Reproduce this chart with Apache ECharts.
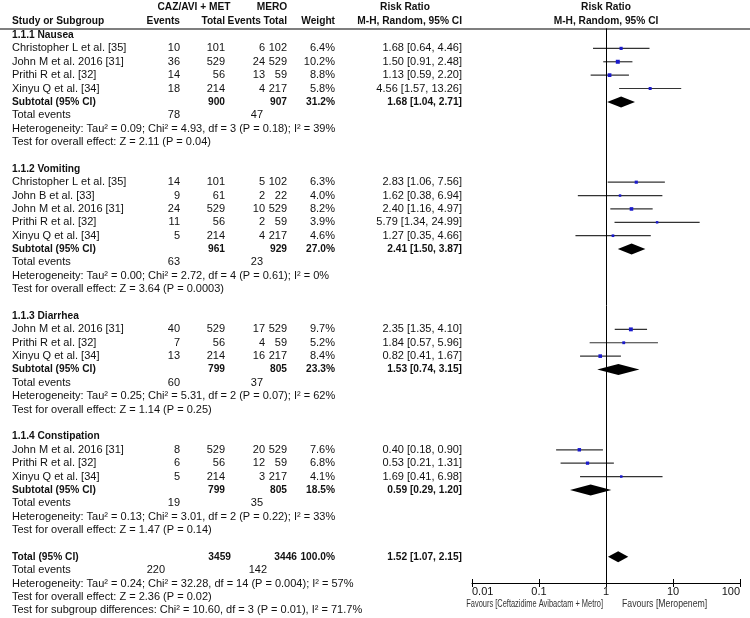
<!DOCTYPE html>
<html>
<head>
<meta charset="utf-8" />
<title>Forest plot - CAZ/AVI + MET vs MERO</title>
<script src="https://cdn.jsdelivr.net/npm/echarts@6/dist/echarts.min.js"></script>
<style>body{margin:0;background:#fff}</style>
</head>
<body>
<div id="grafico" style="width:750px;height:618px"></div>
<script>
// subgroups
const grupos = ["1.1.1 Nausea", "1.1.2 Vomiting", "1.1.3 Diarrhea", "1.1.4 Constipation"];

// studies (group index, name, events/totals, weight, RR + CI)
const estudoGrupo = [0, 0, 0, 0, 1, 1, 1, 1, 1, 2, 2, 2, 3, 3, 3];
const estudos = [
    "Christopher L et al. [35]", "John M et al. 2016 [31]", "Prithi R et al. [32]", "Xinyu Q et al. [34]",
    "Christopher L et al. [35]", "John B et al. [33]", "John M et al. 2016 [31]", "Prithi R et al. [32]", "Xinyu Q et al. [34]",
    "John M et al. 2016 [31]", "Prithi R et al. [32]", "Xinyu Q et al. [34]",
    "John M et al. 2016 [31]", "Prithi R et al. [32]", "Xinyu Q et al. [34]"
];
const eventosExp = [10, 36, 14, 18, 14, 9, 24, 11, 5, 40, 7, 13, 8, 6, 5];
const totalExp = [101, 529, 56, 214, 101, 61, 529, 56, 214, 529, 56, 214, 529, 56, 214];
const eventosCtrl = [6, 24, 13, 4, 5, 2, 10, 2, 4, 17, 4, 16, 20, 12, 3];
const totalCtrl = [102, 529, 59, 217, 102, 22, 529, 59, 217, 529, 59, 217, 529, 59, 217];
const pesos = [6.4, 10.2, 8.8, 5.8, 6.3, 4.0, 8.2, 3.9, 4.6, 9.7, 5.2, 8.4, 7.6, 6.8, 4.1];
const rr = [1.68, 1.50, 1.13, 4.56, 2.83, 1.62, 2.40, 5.79, 1.27, 2.35, 1.84, 0.82, 0.40, 0.53, 1.69];
const rrInf = [0.64, 0.91, 0.59, 1.57, 1.06, 0.38, 1.16, 1.34, 0.35, 1.35, 0.57, 0.41, 0.18, 0.21, 0.41];
const rrSup = [4.46, 2.48, 2.20, 13.26, 7.56, 6.94, 4.97, 24.99, 4.66, 4.10, 5.96, 1.67, 0.90, 1.31, 6.98];

// subtotals
const subTotalExp = [900, 961, 799, 799];
const subTotalCtrl = [907, 929, 805, 805];
const subPeso = [31.2, 27.0, 23.3, 18.5];
const subEventosExp = [78, 63, 60, 19];
const subEventosCtrl = [47, 23, 37, 35];
const subRR = [1.68, 2.41, 1.53, 0.59];
const subInf = [1.04, 1.50, 0.74, 0.29];
const subSup = [2.71, 3.87, 3.15, 1.20];
const subHet = [
    "Heterogeneity: Tau² = 0.09; Chi² = 4.93, df = 3 (P = 0.18); I² = 39%",
    "Heterogeneity: Tau² = 0.00; Chi² = 2.72, df = 4 (P = 0.61); I² = 0%",
    "Heterogeneity: Tau² = 0.25; Chi² = 5.31, df = 2 (P = 0.07); I² = 62%",
    "Heterogeneity: Tau² = 0.13; Chi² = 3.01, df = 2 (P = 0.22); I² = 33%"
];
const subTeste = [
    "Test for overall effect: Z = 2.11 (P = 0.04)",
    "Test for overall effect: Z = 3.64 (P = 0.0003)",
    "Test for overall effect: Z = 1.14 (P = 0.25)",
    "Test for overall effect: Z = 1.47 (P = 0.14)"
];

// overall
const totalGeral = [3459, 3446];
const eventosGeral = [220, 142];
const rrGeral = [1.52, 1.07, 2.15];
const hetGeral = "Heterogeneity: Tau² = 0.24; Chi² = 32.28, df = 14 (P = 0.004); I² = 57%";
const testeGeral = "Test for overall effect: Z = 2.36 (P = 0.02)";
const testeSubgrupos = "Test for subgroup differences: Chi² = 10.60, df = 3 (P = 0.01), I² = 71.7%";

const ticksEixo = ["0.01", "0.1", "1", "10", "100"];

// layout
const ROW0 = 35, ROWH = 13.38, H = 618;
const COL = {nome: 12, evExp: 180, totExp: 225, evCtrl: 265, totCtrl: 287, peso: 335, rr: 462, rrHead: 405};
const FONT = '"Liberation Sans", Arial, sans-serif';

const fmtRR = (a, b, c) => `${a.toFixed(2)} [${b.toFixed(2)}, ${c.toFixed(2)}]`;

// build table cells + plot items
const celulas = [];
const pontos = [];
const diamantes = [];
function cel(x, row, text, align, bold) { celulas.push({x, row, text: String(text), align, bold}); }

cel(194, -2.05, "CAZ/AVI + MET", "center", true);
cel(272, -2.05, "MERO", "center", true);
cel(COL.rrHead, -2.05, "Risk Ratio", "center", true);
cel(606, -2.05, "Risk Ratio", "center", true);
cel(COL.nome, -1.02, "Study or Subgroup", "left", true);
cel(COL.evExp, -1.02, "Events", "right", true);
cel(COL.totExp, -1.02, "Total", "right", true);
cel(261, -1.02, "Events", "right", true);
cel(COL.totCtrl, -1.02, "Total", "right", true);
cel(COL.peso, -1.02, "Weight", "right", true);
cel(COL.rr, -1.02, "M-H, Random, 95% CI", "right", true);
cel(606, -1.02, "M-H, Random, 95% CI", "center", true);

let row = 0;
grupos.forEach((g, gi) => {
    cel(COL.nome, row, g, "left", true);
    row++;
    estudoGrupo.forEach((eg, i) => {
        if (eg !== gi) return;
        cel(COL.nome, row, estudos[i], "left");
        cel(COL.evExp, row, eventosExp[i], "right");
        cel(COL.totExp, row, totalExp[i], "right");
        cel(COL.evCtrl, row, eventosCtrl[i], "right");
        cel(COL.totCtrl, row, totalCtrl[i], "right");
        cel(COL.peso, row, pesos[i].toFixed(1) + "%", "right");
        cel(COL.rr, row, fmtRR(rr[i], rrInf[i], rrSup[i]), "right");
        pontos.push([rr[i], row, rrInf[i], rrSup[i], pesos[i]]);
        row++;
    });
    cel(COL.nome, row, "Subtotal (95% CI)", "left", true);
    cel(COL.totExp, row, subTotalExp[gi], "right", true);
    cel(COL.totCtrl, row, subTotalCtrl[gi], "right", true);
    cel(COL.peso, row, subPeso[gi].toFixed(1) + "%", "right", true);
    cel(COL.rr, row, fmtRR(subRR[gi], subInf[gi], subSup[gi]), "right", true);
    diamantes.push([subRR[gi], row, subInf[gi], subSup[gi]]);
    row++;
    cel(COL.nome, row, "Total events", "left");
    cel(COL.evExp, row, subEventosExp[gi], "right");
    cel(263, row, subEventosCtrl[gi], "right");
    row++;
    cel(COL.nome, row, subHet[gi], "left");
    row++;
    cel(COL.nome, row, subTeste[gi], "left");
    row += 2;
});
cel(COL.nome, row, "Total (95% CI)", "left", true);
cel(COL.totExp + 6, row, totalGeral[0], "right", true);
cel(COL.totCtrl + 10, row, totalGeral[1], "right", true);
cel(COL.peso, row, "100.0%", "right", true);
cel(COL.rr, row, fmtRR(rrGeral[0], rrGeral[1], rrGeral[2]), "right", true);
diamantes.push([rrGeral[0], row, rrGeral[1], rrGeral[2]]);
row++;
cel(COL.nome, row, "Total events", "left");
cel(165, row, eventosGeral[0], "right");
cel(267, row, eventosGeral[1], "right");
row++;
cel(COL.nome, row, hetGeral, "left");
row++;
cel(COL.nome, row, testeGeral, "left");
row++;
cel(COL.nome, row, testeSubgrupos, "left");

const yOf = r => ROW0 + r * ROWH;
const tMin = -2.5, tMax = 43.4;
const fMin = -0.5, fMax = (583 - ROW0) / ROWH;

const chart = echarts.init(document.getElementById("grafico"));
chart.setOption({
    animation: false,
    backgroundColor: "#fff",
    grid: [
        {left: 472, right: 10, top: yOf(fMin), bottom: H - yOf(fMax)},
        {left: 0, right: 0, top: yOf(tMin), bottom: H - yOf(tMax)},
        // thin strip sharing the forest axis line, only for the upward half of the ticks
        {left: 472, right: 10, top: yOf(fMax) - 20, bottom: H - yOf(fMax)}
    ],
    xAxis: [
        {
            type: "log", logBase: 10, min: 0.01, max: 100, gridIndex: 0, position: "bottom",
            axisLine: {onZero: false, lineStyle: {color: "#000", width: 1}},
            axisTick: {show: true, length: 4, lineStyle: {color: "#000"}},
            splitLine: {show: false},
            axisLabel: {
                color: "#111", fontSize: 11, fontFamily: FONT, margin: 3,
                alignMinLabel: "left", alignMaxLabel: "right",
                formatter: v => ticksEixo[Math.round(Math.log10(v)) + 2]
            }
        },
        {type: "value", min: 0, max: 750, gridIndex: 1, show: false},
        {
            type: "log", logBase: 10, min: 0.01, max: 100, gridIndex: 2, position: "bottom",
            axisLine: {show: false, onZero: false}, axisLabel: {show: false}, splitLine: {show: false},
            axisTick: {show: true, inside: true, length: 4, lineStyle: {color: "#000"}}
        }
    ],
    yAxis: [
        {type: "value", min: fMin, max: fMax, inverse: true, gridIndex: 0, show: false},
        {type: "value", min: tMin, max: tMax, inverse: true, gridIndex: 1, show: false},
        {type: "value", min: 0, max: 1, gridIndex: 2, show: false}
    ],
    graphic: [
        {type: "text", x: 603, y: 604, scaleX: 0.71, silent: true,
         style: {text: "Favours [Ceftazidime Avibactam + Metro]", font: '10.5px "Liberation Sans Narrow", ' + FONT,
                 fill: "#333", align: "right", verticalAlign: "middle", textAlign: "right", textVerticalAlign: "middle"}},
        {type: "text", x: 622, y: 604, scaleX: 0.83, silent: true,
         style: {text: "Favours [Meropenem]", font: '10.5px "Liberation Sans Narrow", ' + FONT,
                 fill: "#333", align: "left", verticalAlign: "middle", textAlign: "left", textVerticalAlign: "middle"}}
    ],
    series: [
        {
            type: "custom", name: "tabela", xAxisIndex: 1, yAxisIndex: 1, silent: true, clip: false,
            data: celulas.map(c => [c.x, c.row]),
            renderItem: (params, api) => {
                const c = celulas[params.dataIndex];
                const p = api.coord([api.value(0), api.value(1)]);
                return {
                    type: "text", x: p[0], y: p[1],
                    style: {
                        text: c.text, fill: "#111",
                        font: c.bold ? "bold 10.2px " + FONT : "11px " + FONT,
                        align: c.align, verticalAlign: "middle",
                        textAlign: c.align, textVerticalAlign: "middle"
                    }
                };
            },
            markLine: {
                silent: true, symbol: "none", label: {show: false},
                lineStyle: {color: "#555", width: 1.5, type: "solid"},
                data: [{yAxis: -0.5}]
            }
        },
        {
            type: "custom", name: "estudos", xAxisIndex: 0, yAxisIndex: 0, silent: true,
            data: pontos,
            renderItem: (params, api) => {
                const c = api.coord([api.value(0), api.value(1)]);
                const a = api.coord([api.value(2), api.value(1)]);
                const b = api.coord([api.value(3), api.value(1)]);
                const s = Math.sqrt(api.value(4)) * 1.25;
                return {
                    type: "group",
                    children: [
                        {type: "line", shape: {x1: a[0], y1: a[1], x2: b[0], y2: b[1]},
                         style: {stroke: "#333", lineWidth: 1.2}},
                        {type: "rect", shape: {x: c[0] - s / 2, y: c[1] - s / 2, width: s, height: s},
                         style: {fill: "#1a1acc"}}
                    ]
                };
            },
            markLine: {
                silent: true, symbol: "none", label: {show: false},
                lineStyle: {color: "#000", width: 1, type: "solid"},
                data: [{xAxis: 1}]
            }
        },
        {
            type: "custom", name: "diamantes", xAxisIndex: 0, yAxisIndex: 0, silent: true,
            data: diamantes,
            renderItem: (params, api) => {
                const c = api.coord([api.value(0), api.value(1)]);
                const a = api.coord([api.value(2), api.value(1)]);
                const b = api.coord([api.value(3), api.value(1)]);
                const h = 5.5;
                return {
                    type: "polygon",
                    shape: {points: [[a[0], c[1]], [c[0], c[1] - h], [b[0], c[1]], [c[0], c[1] + h]]},
                    style: {fill: "#000"}
                };
            }
        }
    ]
});
</script>
</body>
</html>
